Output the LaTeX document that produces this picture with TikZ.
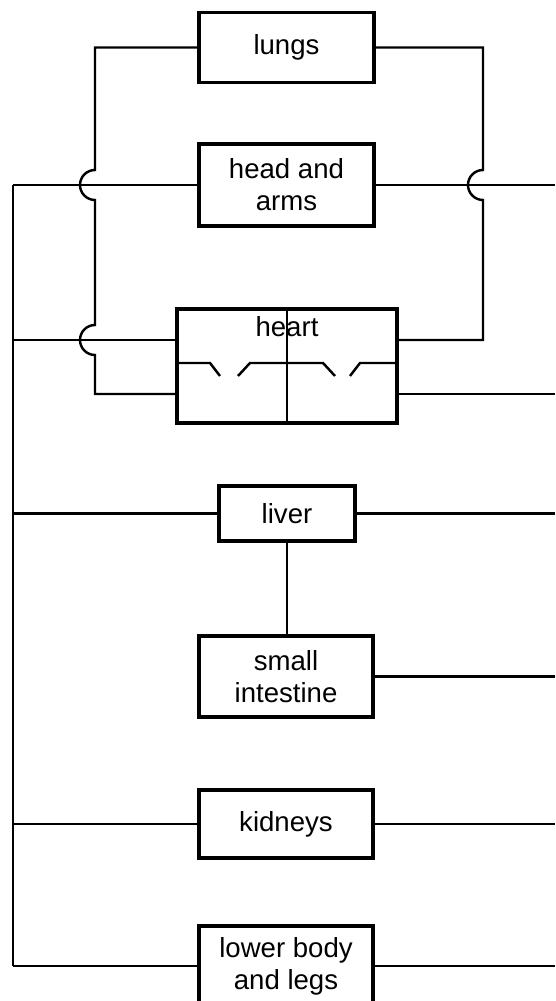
\documentclass[tikz,border=0pt]{standalone}
\usepackage{fontspec}
\setmainfont{Liberation Sans}
\usepackage{tikz}
\usetikzlibrary{positioning, calc}

\tikzset{
  organ/.style={draw, line width=1.8pt, rectangle, align=center, inner sep=0pt},
  vessel/.style={line width=1.4pt},
}

\begin{document}
\begin{tikzpicture}[x=0.02cm, y=0.02cm, font=\fontsize{15.7}{18.2}\selectfont]
  \clip (0,0) rectangle (555,1001);

  % organs
  \node[organ, minimum width=3.5cm, minimum height=1.4cm] (lungs) at (286.5,953.5) {lungs};
  \node[organ, minimum width=3.5cm, minimum height=1.64cm] (head) at (286.5,816) {head and\\arms};
  \node[organ, minimum width=4.4cm, minimum height=2.28cm] (heart) at (287,635) {};
  \node (heartlbl) at ([yshift=-0.38cm]heart.north) {heart};
  \node[organ, minimum width=2.72cm, minimum height=1.1cm] (liver) at (287,487.5) {liver};
  \node[organ, minimum width=3.48cm, minimum height=1.62cm] (gut) at (286,324.5) {small\\intestine};
  \node[organ, minimum width=3.48cm, minimum height=1.36cm] (kidneys) at (286,177) {kidneys};
  \node[organ, minimum width=3.48cm, minimum height=1.6cm] (legs) at (286,35) {lower body\\and legs};

  % heart: septum and valves
  \draw[vessel] (heart.north) -- (heart.south);
  \draw[vessel] (177,638) -- (210,638) -- (220,625);
  \draw[vessel] (238,625) -- (250,638) -- (323,638) -- (335,625);
  \draw[vessel] (350,625) -- (360,638) -- (397,638);

  % helper columns
  \coordinate (trunk) at (13,0);
  \coordinate (loopL) at (95,0);
  \coordinate (loopR) at (483,0);
  \coordinate (edge) at (555,0);
  \coordinate (heartLin) at ([yshift=0.52cm]heart.west);
  \coordinate (heartLout) at ([yshift=-0.56cm]heart.west);
  \coordinate (heartRin) at ([yshift=0.52cm]heart.east);
  \coordinate (heartRout) at ([yshift=-0.56cm]heart.east);

  % lung circuit (hops over the crossing lines)
  \draw[vessel] (lungs.west) -| ($(head.west -| loopL)+(0,15)$)
    arc[start angle=90, end angle=270, radius=15]
    -- ($(heartLin -| loopL)+(0,15)$)
    arc[start angle=90, end angle=270, radius=15]
    |- (heartLout);
  \draw[vessel] (lungs.east) -| ($(head.east -| loopR)+(0,15)$)
    arc[start angle=90, end angle=270, radius=15]
    |- (heartRin);

  % body circuit
  \draw[vessel] (head.west -| trunk) -- (legs.west -| trunk);
  \draw[vessel] (heartLin -| trunk) -- (heartLin);
  \draw[vessel] (heartRout) -- (heartRout -| edge);
  \foreach \n in {head, liver, kidneys, legs} {
    \draw[vessel] (\n.west -| trunk) -- (\n.west);
  }
  \foreach \n in {head, liver, gut, kidneys, legs} {
    \draw[vessel] (\n.east) -- (\n.east -| edge);
  }
  \draw[vessel] (liver.south) -- (liver.south |- gut.north);
\end{tikzpicture}
\end{document}
